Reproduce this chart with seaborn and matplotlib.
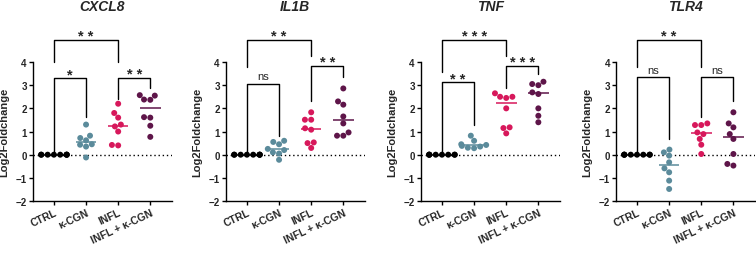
import numpy as np
import pandas as pd
import matplotlib
matplotlib.use('Agg')
import matplotlib.pyplot as plt
import seaborn as sb

import warnings
warnings.filterwarnings('ignore')

sb.set_style('ticks')
plt.rcParams['font.family'] = ['Liberation Sans', 'DejaVu Sans']
plt.rcParams['font.weight'] = 'bold'

groups = ['CTRL', 'κ-CGN', 'INFL', 'INFL + κ-CGN']
colors = ['#000000', '#5b8b9b', '#d7185b', '#5e1549']
genes = ['CXCL8', 'IL1B', 'TNF', 'TLR4']

ctrl = [0, 0, 0, 0, 0, 0, 0, 0]

cxcl8_cgn = [1.3, 0.82, 0.72, 0.62, 0.45, 0.43, 0.35, -0.12]
cxcl8_infl = [2.2, 1.8, 1.6, 1.3, 1.22, 1.0, 0.4, 0.42]
cxcl8_both = [2.55, 2.57, 2.37, 2.38, 1.6, 1.62, 1.25, 0.77]

il1b_cgn = [0.6, 0.55, 0.45, 0.25, 0.2, 0.1, 0.05, -0.22]
il1b_infl = [1.83, 1.51, 1.51, 1.14, 1.08, 0.53, 0.5, 0.29]
il1b_both = [2.86, 2.3, 2.16, 1.65, 1.35, 0.96, 0.82, 0.82]

tnf_cgn = [0.82, 0.6, 0.45, 0.42, 0.38, 0.35, 0.3, 0.28]
tnf_infl = [2.65, 2.45, 2.5, 2.5, 2.0, 1.18, 1.15, 0.92]
tnf_both = [3.05, 3.0, 3.15, 2.69, 2.62, 2.0, 1.68, 1.4]

tlr4_cgn = [0.1, 0.22, -0.04, -0.33, -0.76, -0.59, -1.12, -1.48]
tlr4_infl = [1.28, 1.28, 1.35, 0.89, 0.96, 0.68, 0.43, 0.03]
tlr4_both = [1.83, 1.35, 1.18, 0.89, 0.68, 0.03, -0.47, -0.4]

gene_data = {
    'CXCL8': [ctrl, cxcl8_cgn, cxcl8_infl, cxcl8_both],
    'IL1B': [ctrl, il1b_cgn, il1b_infl, il1b_both],
    'TNF': [ctrl, tnf_cgn, tnf_infl, tnf_both],
    'TLR4': [ctrl, tlr4_cgn, tlr4_infl, tlr4_both],
}

# brackets: (group a, group b, bar height, leg end a, leg end b, label)
brackets = {
    'CXCL8': [(0, 2, 4.96, 4.0, 4.0, '**'),
              (0, 1, 3.31, 0.05, 1.61, '*'),
              (2, 3, 3.31, 2.4, 2.9, '**')],
    'IL1B': [(0, 2, 4.96, 3.77, 4.27, '**'),
             (0, 1, 3.05, 0.05, 0.82, 'ns'),
             (2, 3, 3.84, 2.33, 3.34, '**')],
    'TNF': [(0, 2, 4.96, 3.58, 4.27, '***'),
            (0, 1, 3.12, 0.05, 1.28, '**'),
            (2, 3, 3.84, 2.9, 3.48, '***')],
    'TLR4': [(0, 2, 4.96, 3.77, 3.77, '**'),
             (0, 1, 3.34, 0.05, 0.68, 'ns'),
             (2, 3, 3.34, 1.61, 2.33, 'ns')],
}

lefts = [0.0437, 0.299, 0.557, 0.815]

fig = plt.figure(figsize=(7.56, 2.55), dpi=100)

for gene, left in zip(genes, lefts):
    ax = fig.add_axes([left, 0.2078, 0.184, 0.545])
    rows = []
    for g, vals in zip(groups, gene_data[gene]):
        for v in vals:
            rows.append({'group': g, 'value': v})
    df = pd.DataFrame(rows)

    sb.swarmplot(data=df, x='group', y='value', hue='group', order=groups,
                 hue_order=groups, palette=colors, size=4.3, linewidth=0,
                 legend=False, ax=ax, clip_on=False)

    for i, g in enumerate(groups):
        med = df.loc[df['group'] == g, 'value'].median()
        ax.hlines(med, i - 0.32, i + 0.32, color=colors[i], lw=1.1, zorder=3)

    ax.axhline(0, color='black', ls=(0, (1, 2)), lw=1, zorder=0)

    for a, b, h, ea, eb, lab in brackets[gene]:
        ax.plot([a, a, b, b], [ea, h, h, eb], color='black', lw=1, clip_on=False)
        if lab == 'ns':
            ax.text((a + b) / 2, h + 0.12, lab, ha='center', va='bottom',
                    fontsize=8, fontweight='normal', clip_on=False)
        else:
            ax.text((a + b) / 2, h - 0.15, ' '.join(lab), ha='center', va='bottom',
                    fontsize=10.5, fontweight='bold', clip_on=False)

    ax.text(1.5, 6.4, gene, ha='center', va='center', fontsize=10,
            fontweight='bold', fontstyle='italic')

    ax.set_xlim(-0.65, 3.68)
    ax.set_ylim(-2, 4)
    ax.set_yticks([-2, -1, 0, 1, 2, 3, 4])
    ax.set_ylabel('Log2Foldchange', fontsize=8, fontweight='bold')
    ax.yaxis.set_label_coords(-0.17, 0.5)
    ax.set_xlabel('')
    ax.set_xticks(range(4))
    ax.set_xticklabels(groups, rotation=25, ha='right', rotation_mode='anchor',
                       fontsize=7.5, fontweight='bold')
    for t in ax.get_yticklabels():
        t.set_fontsize(7)
        t.set_fontweight('bold')
    ax.tick_params(axis='both', length=3, width=1, pad=1.5, color='black')
    sb.despine(ax=ax)
    for s in ['left', 'bottom']:
        ax.spines[s].set_linewidth(1)
        ax.spines[s].set_color('black')

fig.savefig('out.png', dpi=100)
